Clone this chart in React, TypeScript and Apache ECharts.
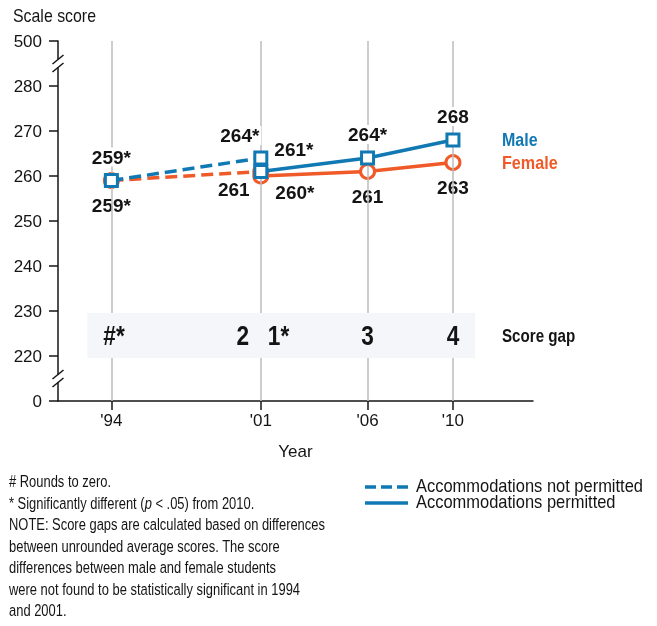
import React, { useEffect, useRef } from 'react';
import * as echarts from 'echarts';

// ---- data ----
const years = [1994, 2001, 2006, 2010];
const yearLabels = ["'94", "'01", "'06", "'10"];
const maleNotPermitted = [[1994, 259], [2001, 264]];
const femaleNotPermitted = [[1994, 259], [2001, 261]];
const malePermitted = [[2001, 261], [2006, 264], [2010, 268]];
const femalePermitted = [[2001, 260], [2006, 261], [2010, 263]];
const maleNPLabels = ['259*', '264*'];
const femaleNPLabels = ['259*', '261'];
const malePLabels = ['261*', '264*', '268'];
const femalePLabels = ['260*', '261', '263'];
const gapYears = [1994, 2001, 2001, 2006, 2010];
const gapLabels = ['#*', '2', '1*', '3', '4'];
const footnotes = [
  '# Rounds to zero.',
  '* Significantly different ({i|p} < .05) from 2010.',
  'NOTE: Score gaps are calculated based on differences',
  'between unrounded average scores. The score',
  'differences between male and female students',
  'were not found to be statistically significant in 1994',
  'and 2001.',
];

// broken axis: 0 drawn one step below 220, 500 one step above 280
const AXIS_LOW = 210;
const AXIS_HIGH = 290;
const toAxis = (v: number) => (v === 0 ? AXIS_LOW : v === 500 ? AXIS_HIGH : v);
const fromAxis = (v: number) => (v === AXIS_LOW ? 0 : v === AXIS_HIGH ? 500 : v);

const FONT = "'Liberation Sans', Arial, Roboto, sans-serif";
const BLUE = '#1078b2';
const ORANGE = '#f05a28';
const INK = '#141414';

let measureCtx: CanvasRenderingContext2D | null = null;
function measure(text: string, size: number, weight: string) {
  if (!measureCtx) measureCtx = document.createElement('canvas').getContext('2d');
  if (!measureCtx) return text.length * size * 0.5;
  measureCtx.font = `${weight} ${size}px ${FONT}`;
  return measureCtx.measureText(text).width;
}
// horizontal squeeze so the (non-condensed) installed font matches the reference's condensed type
function squeeze(text: string, size: number, weight: string, target: number) {
  return Math.min(1, target / measure(text, size, weight));
}

type LabelCfg = { position: string; offset?: number[]; distance?: number };

function buildData(points: number[][], labels: string[], cfgs: LabelCfg[]) {
  return points.map((p, i) => ({
    value: [p[0], toAxis(p[1])],
    label: {
      show: true,
      formatter: labels[i],
      position: cfgs[i].position,
      offset: cfgs[i].offset || [0, 0],
      distance: cfgs[i].distance ?? 6.5,
    },
  }));
}

export default function App() {
  const ref = useRef<HTMLDivElement>(null);

  useEffect(() => {
    document.body.style.margin = '0';
    const chart = echarts.init(ref.current!, undefined, { renderer: 'svg' });

    const labelStyle = {
      fontFamily: FONT,
      fontWeight: 'bold' as const,
      fontSize: 19,
      color: INK,
      backgroundColor: '#ffffff',
      padding: [0, 2],
    };

    const lineSeries = (
      name: string,
      data: any[],
      color: string,
      dashed: boolean,
      symbol: string,
      symbolSize: number,
      z: number
    ) => ({
      name,
      type: 'line',
      data,
      z,
      symbol,
      symbolSize,
      showAllSymbol: true,
      lineStyle: { color, width: 3.5, type: dashed ? [12, 6] : 'solid' },
      itemStyle: { color: '#ffffff', borderColor: color, borderWidth: 3 },
      label: labelStyle,
      emphasis: { disabled: true },
    });

    chart.setOption({
      animation: false,
      grid: { left: 58, right: 124, top: 41, bottom: 225, containLabel: false },
      xAxis: {
        type: 'value',
        min: 1991.5,
        max: 2013.75,
        name: 'Year',
        nameLocation: 'middle',
        nameGap: 42,
        nameTextStyle: { fontFamily: FONT, fontSize: 17, color: INK },
        axisLine: { show: true, lineStyle: { color: INK, width: 1.5 } },
        axisTick: { show: true, length: 9, customValues: years, lineStyle: { color: INK, width: 1.5 } },
        axisLabel: {
          customValues: years,
          formatter: (v: number) => yearLabels[years.indexOf(v)] ?? '',
          fontFamily: FONT,
          fontSize: 17,
          color: INK,
          margin: 11,
        },
        splitLine: { show: false },
      },
      yAxis: {
        type: 'value',
        min: AXIS_LOW,
        max: AXIS_HIGH,
        interval: 10,
        axisLine: { show: true, lineStyle: { color: INK, width: 1.5 } },
        axisTick: { show: true, length: 9, lineStyle: { color: INK, width: 1.5 } },
        axisLabel: {
          formatter: (v: number) => String(fromAxis(v)),
          fontFamily: FONT,
          fontSize: 17,
          color: INK,
          margin: 16,
        },
        splitLine: { show: false },
      },
      series: [
        {
          name: 'grid',
          type: 'line',
          data: [],
          z: 1,
          silent: true,
          markLine: {
            silent: true,
            symbol: 'none',
            label: { show: false },
            lineStyle: { color: '#bdbdbd', width: 1.5, type: 'solid' },
            data: years.map((y) => ({ xAxis: y })),
          },
        },
        lineSeries(
          'Female (not permitted)',
          buildData(femaleNotPermitted, femaleNPLabels, [
            { position: 'bottom' },
            { position: 'bottom', offset: [-27, -6.5] },
          ]),
          ORANGE, true, 'circle', 14, 3
        ),
        lineSeries(
          'Female',
          buildData(femalePermitted, femalePLabels, [
            { position: 'right', offset: [0, 16.5], distance: 4 },
            { position: 'bottom' },
            { position: 'bottom' },
          ]),
          ORANGE, false, 'circle', 14, 4
        ),
        lineSeries(
          'Male (not permitted)',
          buildData(maleNotPermitted, maleNPLabels, [
            { position: 'top' },
            { position: 'top', offset: [-21, 1] },
          ]),
          BLUE, true, 'rect', 12, 5
        ),
        lineSeries(
          'Male',
          buildData(malePermitted, malePLabels, [
            { position: 'right', offset: [0, -22.5], distance: 4 },
            { position: 'top' },
            { position: 'top' },
          ]),
          BLUE, false, 'rect', 12, 6
        ),
      ],
    });

    const px = (x: number, y: number) => chart.convertToPixel({ gridIndex: 0 }, [x, y]) as number[];

    const axisX = px(1991.5, 260)[0];
    const breakMids = [
      (px(1994, 280)[1] + px(1994, AXIS_HIGH)[1]) / 2,
      (px(1994, 220)[1] + px(1994, AXIS_LOW)[1]) / 2,
    ];

    const graphics: any[] = [];

    const txt = (
      text: string, x: number, y: number, size: number, weight: string, fill: string,
      scaleX: number, align = 'left', extra: any = {}
    ) => ({
      type: 'text',
      x, y, scaleX,
      ...extra,
      style: {
        text, fontFamily: FONT, fontWeight: weight, fontSize: size, fill,
        align, verticalAlign: 'middle', ...(extra.style || {}),
      },
    });

    // score-gap band
    const bandLeft = px(1994, 230)[0] - 24;
    const bandRight = px(2010, 230)[0] + 22;
    const bandTop = px(1994, 230)[1] + 2;
    const bandBottom = px(1994, 220)[1] + 2;
    graphics.push({
      type: 'rect',
      z: 5,
      shape: { x: bandLeft, y: bandTop, width: bandRight - bandLeft, height: bandBottom - bandTop },
      style: { fill: '#f4f6f9' },
      silent: true,
    });

    const gapScale = squeeze('4', 27, 'bold', 12.6);
    const gapDx = [-8, -18, 7, 0, 0];
    const gapAlign = ['left', 'center', 'left', 'center', 'center'];
    const gapY = px(1994, 225)[1] + 1.5;
    gapLabels.forEach((t, i) => {
      graphics.push(txt(t, px(gapYears[i], 225)[0] + gapDx[i], gapY, 27, 'bold', INK, gapScale, gapAlign[i], { z: 6 }));
    });

    // axis breaks
    breakMids.forEach((m) => {
      graphics.push({
        type: 'rect',
        z: 10,
        shape: { x: axisX - 3, y: m - 4, width: 6, height: 8 },
        style: { fill: '#ffffff' },
        silent: true,
      });
      [-4, 4].forEach((d) => {
        graphics.push({
          type: 'line',
          z: 11,
          shape: { x1: axisX - 5.5, y1: m + d + 4.5, x2: axisX + 5.5, y2: m + d - 4.5 },
          style: { stroke: INK, lineWidth: 1.5 },
          silent: true,
        });
      });
    });

    // titles and series names
    graphics.push(
      txt('Scale score', 13, 16, 18, 'normal', INK, squeeze('Scale score', 18, 'normal', 83)),
      txt('Male', 502, 140, 19, 'bold', BLUE, squeeze('Male', 19, 'bold', 35.6)),
      txt('Female', 502, 163, 19, 'bold', ORANGE, squeeze('Female', 19, 'bold', 55.7)),
      txt('Score gap', 502, 336, 18, 'bold', INK, squeeze('Score gap', 18, 'bold', 73.3))
    );

    // line-style legend
    const legScale = squeeze('Accommodations not permitted', 18, 'normal', 227);
    graphics.push(
      {
        type: 'line', shape: { x1: 365, y1: 487, x2: 408, y2: 487 },
        style: { stroke: BLUE, lineWidth: 3.5, lineDash: [11, 5] },
      },
      {
        type: 'line', shape: { x1: 365, y1: 503, x2: 408, y2: 503 },
        style: { stroke: BLUE, lineWidth: 3.5 },
      },
      txt('Accommodations not permitted', 416, 486, 18, 'normal', INK, legScale),
      txt('Accommodations permitted', 416, 502, 18, 'normal', INK, legScale)
    );

    // footnotes
    const noteScale = squeeze(footnotes[2], 17, 'normal', 316);
    footnotes.forEach((t, i) => {
      graphics.push(
        txt(t, 9, 481 + i * 21.5, 17, 'normal', INK, noteScale, 'left', {
          style: { rich: { i: { fontStyle: 'italic', fontFamily: FONT, fontSize: 17, fill: INK } } },
        })
      );
    });

    chart.setOption({ graphic: graphics });

    return () => chart.dispose();
  }, []);

  return <div ref={ref} style={{ position: 'fixed', left: 0, top: 0, width: 657, height: 626 }} />;
}
